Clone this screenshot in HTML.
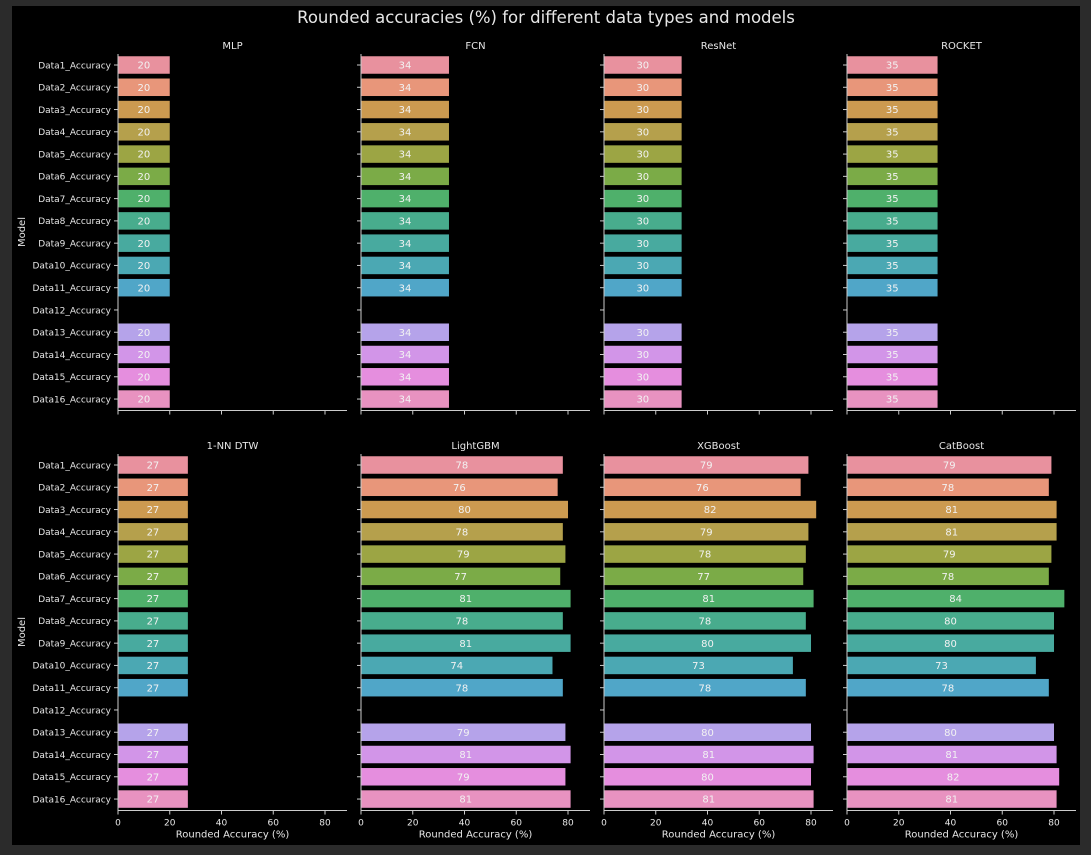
<!DOCTYPE html>
<html><head><meta charset="utf-8"><style>
html,body{margin:0;padding:0;background:#2b2b2b;}
#wrap{position:relative;width:1091px;height:855px;background:#2b2b2b;}
svg{position:absolute;left:0;top:0;}
text{font-family:"DejaVu Sans","Liberation Sans",sans-serif;}
</style></head><body>
<div id="wrap">
<svg id="chart" width="1091" height="855"></svg>
</div>
<script>
const categories=["Data1_Accuracy","Data2_Accuracy","Data3_Accuracy","Data4_Accuracy","Data5_Accuracy","Data6_Accuracy","Data7_Accuracy","Data8_Accuracy","Data9_Accuracy","Data10_Accuracy","Data11_Accuracy","Data12_Accuracy","Data13_Accuracy","Data14_Accuracy","Data15_Accuracy","Data16_Accuracy"];
const models=["MLP","FCN","ResNet","ROCKET","1-NN DTW","LightGBM","XGBoost","CatBoost"];
const mlp=[20,20,20,20,20,20,20,20,20,20,20,null,20,20,20,20];
const fcn=[34,34,34,34,34,34,34,34,34,34,34,null,34,34,34,34];
const resnet=[30,30,30,30,30,30,30,30,30,30,30,null,30,30,30,30];
const rocket=[35,35,35,35,35,35,35,35,35,35,35,null,35,35,35,35];
const dtw=[27,27,27,27,27,27,27,27,27,27,27,null,27,27,27,27];
const lightgbm=[78,76,80,78,79,77,81,78,81,74,78,null,79,81,79,81];
const xgboost=[79,76,82,79,78,77,81,78,80,73,78,null,80,81,80,81];
const catboost=[79,78,81,81,79,78,84,80,80,73,78,null,80,81,82,81];
const xTicks=[0,20,40,60,80];
const series=[mlp,fcn,resnet,rocket,dtw,lightgbm,xgboost,catboost];
const colors=["#e8919e","#e8967a","#cc9a50","#b5a04c","#9ca544","#7bab47","#4fb06b","#48ac8d","#48aa9f","#4ba8b3","#50a6c8","#8da3e8","#b5a3ea","#d295e8","#e58ede","#e892c0"];
const NS="http://www.w3.org/2000/svg";
const svg=document.getElementById('chart');
function mk(tag,attrs,parent){const e=document.createElementNS(NS,tag);for(const k in attrs)e.setAttribute(k,attrs[k]);(parent||svg).appendChild(e);return e;}
const bg=mk('rect',{x:12,y:6,width:1068,height:839,fill:'#000'});


const title=mk('text',{x:546,y:23,fill:'#e6e6e6','font-size':16.5,'text-anchor':'middle'});
title.textContent="Rounded accuracies (%) for different data types and models";


const colX=[118,361,604,847];
const rowY=[65,465];
const step=22.27,barH=17.5,axW=229,xMax=88.5;
function xs(v,x0){return x0+v/xMax*axW;}
models.forEach((m,i)=>{
  const c=i%4,r=Math.floor(i/4);
  const x0=colX[c],y0=rowY[r];
  const g=mk('g',{});
  
  
  const t=mk('text',{x:x0+axW/2,y:y0-16,fill:'#e6e6e6','font-size':10,'text-anchor':'middle'},g);
  t.textContent=m;
  
  
  const vals=series[i];
  categories.forEach((cat,j)=>{
    const yc=y0+j*step;
    mk('line',{x1:x0-4,x2:x0,y1:yc,y2:yc,stroke:'#ccc','stroke-width':1},g);
    if(c===0){
      const lt=mk('text',{x:x0-7,y:yc+3.3,fill:'#e6e6e6','font-size':9,'text-anchor':'end'},g);
      lt.textContent=cat;
      
      
    }
    const v=vals[j];
    if(v!=null){
      const b=mk('rect',{x:x0,y:yc-barH/2,width:xs(v,x0)-x0,height:barH,fill:colors[j]},g);
      
      
      const vt=mk('text',{x:(x0+xs(v,x0))/2,y:yc+3.6,fill:'#f2f2f2','font-size':10,'text-anchor':'middle'},g);
      vt.textContent=v;
      
      
    }
  });
  const yb=y0+15*step+11.5;
  mk('line',{x1:x0,x2:x0,y1:y0-11,y2:yb,stroke:'#ccc','stroke-width':1},g);
  mk('line',{x1:x0,x2:x0+axW,y1:yb,y2:yb,stroke:'#ccc','stroke-width':1},g);
  xTicks.forEach(tv=>{
    const tx=xs(tv,x0);
    mk('line',{x1:tx,x2:tx,y1:yb,y2:yb+4,stroke:'#ccc','stroke-width':1},g);
    if(r===1){
      const tl=mk('text',{x:tx,y:yb+15,fill:'#e6e6e6','font-size':9,'text-anchor':'middle'},g);
      tl.textContent=tv;
      
      
    }
  });
  if(r===1){
    const xl=mk('text',{x:x0+axW/2,y:yb+27,fill:'#e6e6e6','font-size':10,'text-anchor':'middle'},g);
    xl.textContent="Rounded Accuracy (%)";
    
    
  }
  if(c===0){
    const ym=y0+7.5*step;
    const yl=mk('text',{x:25,y:ym,fill:'#e6e6e6','font-size':10,'text-anchor':'middle',transform:`rotate(-90 25 ${ym})`},g);
    yl.textContent="Model";
    
    
  }
});
</script>
</body></html>
